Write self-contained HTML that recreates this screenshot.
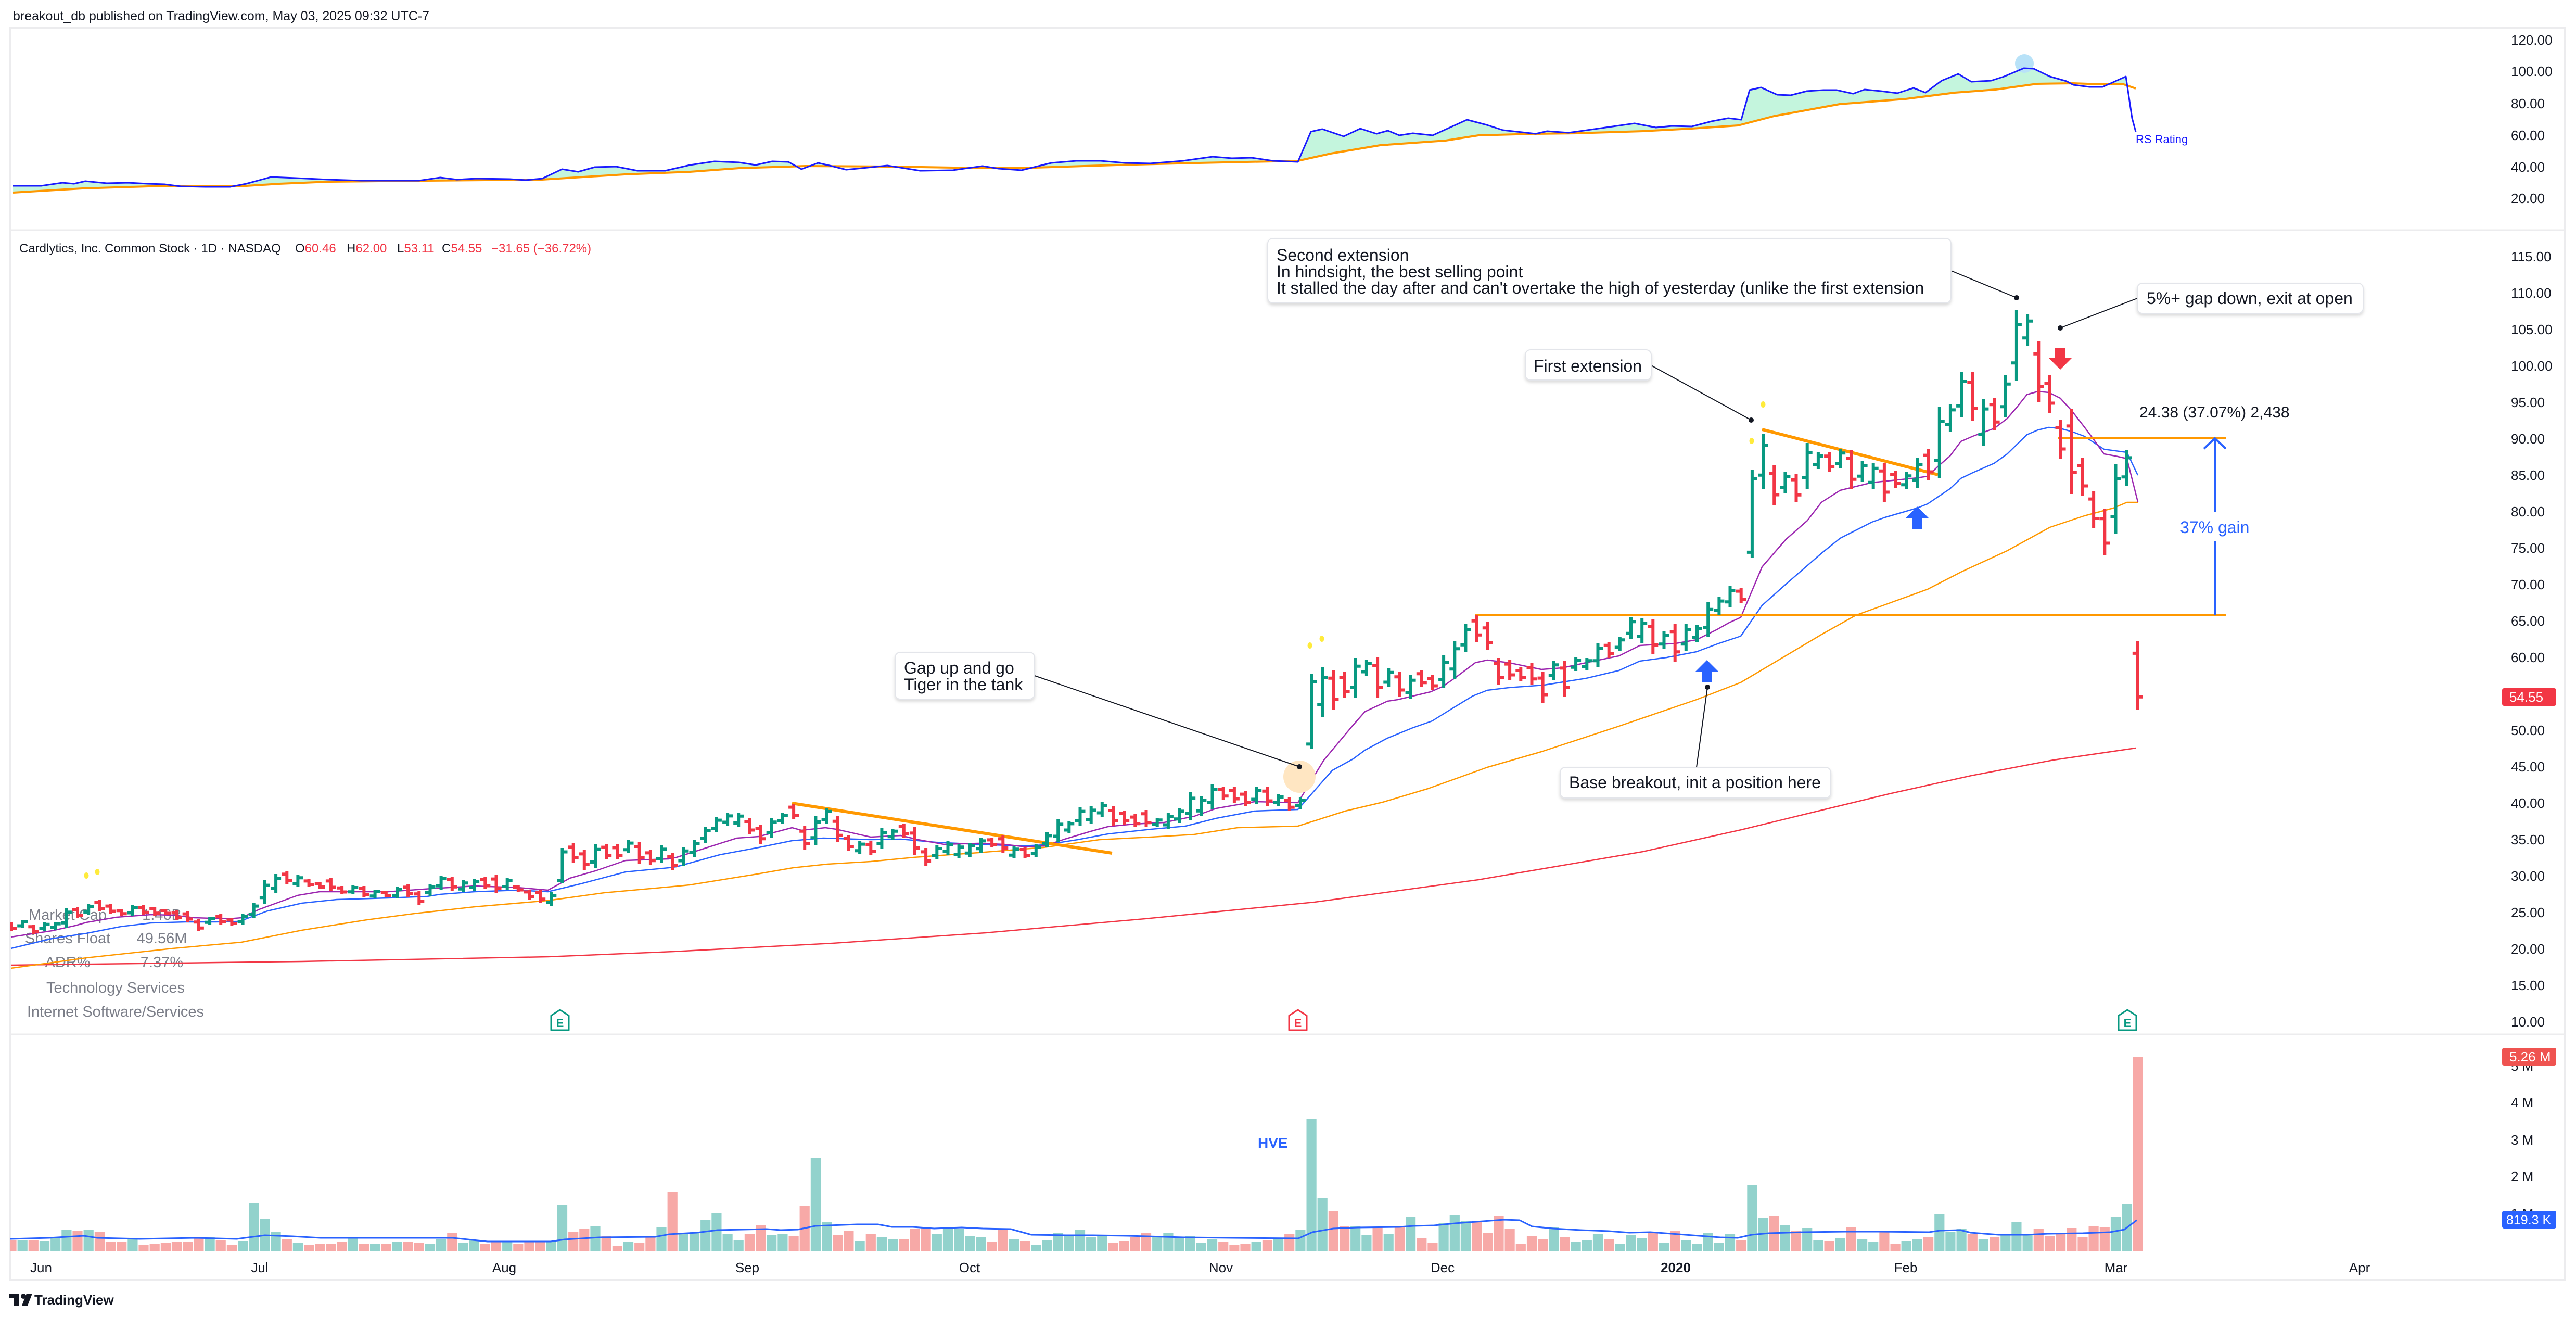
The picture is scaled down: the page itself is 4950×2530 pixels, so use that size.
<!DOCTYPE html>
<html><head><meta charset="utf-8">
<style>
html,body{margin:0;padding:0;background:#fff;}
body{width:4950px;height:2530px;overflow:hidden;position:relative;font-family:"Liberation Sans",Arial,sans-serif;}
svg{position:absolute;left:0;top:0;}
text{font-family:"Liberation Sans",Arial,sans-serif;}
</style></head><body>
<svg id="s" width="4950" height="2530" viewBox="0 0 4950 2530" xmlns="http://www.w3.org/2000/svg">
<defs>
<clipPath id="cpMain"><rect x="20" y="443" width="4725" height="1543"/></clipPath>
<clipPath id="cpVol"><rect x="20" y="1988" width="4725" height="420"/></clipPath>
<clipPath id="cpAbove"><polygon points="25,370 158,362 316,357 458,358 537,353 631,349 821,347 1042,345 1200,335 1326,330 1420,323 1547,319 1705,320 1894,323 1989,322 2146,317 2304,313 2494,309 2557,295 2652,279 2778,270 2841,260 2951,257 3030,256 3157,252 3251,247 3340,241 3409,223 3535,200 3662,190 3756,178 3835,172 3914,161 3984,160 4040,162 4078,161 4104,170 4104,54 25,54"/></clipPath>
<filter id="sh" x="-5%" y="-20%" width="110%" height="150%"><feDropShadow dx="0" dy="4" stdDeviation="3" flood-color="#000" flood-opacity="0.14"/></filter>
</defs>
<rect x="0" y="0" width="4950" height="2530" fill="#fff"/>

<!-- top header -->
<text x="25" y="39" font-size="25" fill="#131722">breakout_db published on TradingView.com, May 03, 2025 09:32 UTC-7</text>

<!-- panel frames -->
<rect x="19.5" y="53.5" width="4909" height="2405" fill="none" stroke="#ececee" stroke-width="3"/>
<line x1="19" y1="442" x2="4929" y2="442" stroke="#ececee" stroke-width="3"/>
<line x1="19" y1="1987" x2="4929" y2="1987" stroke="#ececee" stroke-width="3"/>

<!-- ===== RS pane ===== -->
<g id="rsfill">
<polygon clip-path="url(#cpAbove)" fill="#c4f5dd" points="25,357 79,357 120,351 142,353 164,348 205,352 246,351 284,353 316,354 347,358 395,359 442,359 473,353 521,340 568,342 631,345 694,347 758,347 805,347 846,341 878,345 915,343 979,344 1010,346 1042,343 1080,325 1111,330 1143,321 1184,320 1225,328 1278,328 1326,317 1373,310 1420,312 1452,317 1484,310 1515,311 1540,325 1572,313 1594,318 1626,326 1657,323 1705,318 1768,328 1831,327 1888,319 1919,324 1963,327 2020,313 2068,309 2115,309 2162,313 2210,314 2273,309 2330,301 2367,304 2405,303 2446,309 2494,311 2519,253 2541,248 2582,262 2614,247 2645,257 2667,251 2689,260 2715,256 2753,260 2819,230 2857,240 2888,250 2951,257 2973,252 3014,255 3078,246 3141,237 3182,245 3213,242 3251,243 3289,233 3321,227 3346,230 3362,173 3384,168 3415,182 3441,183 3472,175 3504,173 3529,173 3561,180 3583,172 3614,175 3646,179 3677,169 3700,178 3731,155 3763,142 3788,157 3826,155 3851,147 3889,131 3908,132 3939,147 3971,156 3984,163 4015,167 4040,167 4056,160 4085,147 4097,227 4104,253 4104,170 4078,161 4040,162 3984,160 3914,161 3835,172 3756,178 3662,190 3535,200 3409,223 3340,241 3251,247 3157,252 3030,256 2951,257 2841,260 2778,270 2652,279 2557,295 2494,309 2304,313 2146,317 1989,322 1894,323 1705,320 1547,319 1420,323 1326,330 1200,335 1042,345 821,347 631,349 537,353 458,358 316,357 158,362 25,370"/>
</g>
<polyline fill="none" stroke="#ff9800" stroke-width="4" stroke-linejoin="round" points="25,370 158,362 316,357 458,358 537,353 631,349 821,347 1042,345 1200,335 1326,330 1420,323 1547,319 1705,320 1894,323 1989,322 2146,317 2304,313 2494,309 2557,295 2652,279 2778,270 2841,260 2951,257 3030,256 3157,252 3251,247 3340,241 3409,223 3535,200 3662,190 3756,178 3835,172 3914,161 3984,160 4040,162 4078,161 4104,170"/>
<circle cx="3890" cy="122" r="18" fill="#b8e2f8"/>
<polyline fill="none" stroke="#1a1aff" stroke-width="3" stroke-linejoin="round" points="25,357 79,357 120,351 142,353 164,348 205,352 246,351 284,353 316,354 347,358 395,359 442,359 473,353 521,340 568,342 631,345 694,347 758,347 805,347 846,341 878,345 915,343 979,344 1010,346 1042,343 1080,325 1111,330 1143,321 1184,320 1225,328 1278,328 1326,317 1373,310 1420,312 1452,317 1484,310 1515,311 1540,325 1572,313 1594,318 1626,326 1657,323 1705,318 1768,328 1831,327 1888,319 1919,324 1963,327 2020,313 2068,309 2115,309 2162,313 2210,314 2273,309 2330,301 2367,304 2405,303 2446,309 2494,311 2519,253 2541,248 2582,262 2614,247 2645,257 2667,251 2689,260 2715,256 2753,260 2819,230 2857,240 2888,250 2951,257 2973,252 3014,255 3078,246 3141,237 3182,245 3213,242 3251,243 3289,233 3321,227 3346,230 3362,173 3384,168 3415,182 3441,183 3472,175 3504,173 3529,173 3561,180 3583,172 3614,175 3646,179 3677,169 3700,178 3731,155 3763,142 3788,157 3826,155 3851,147 3889,131 3908,132 3939,147 3971,156 3984,163 4015,167 4040,167 4056,160 4085,147 4097,227 4104,253"/>
<text x="4104" y="275" font-size="22" fill="#1a1aff">RS Rating</text>

<!-- RS axis -->
<g font-size="26" fill="#131722">
<text x="4825" y="86">120.00</text>
<text x="4825" y="146">100.00</text>
<text x="4825" y="208">80.00</text>
<text x="4825" y="269">60.00</text>
<text x="4825" y="330">40.00</text>
<text x="4825" y="390">20.00</text>
</g>

<!-- ===== Main pane ===== -->
<text y="485" font-size="24" fill="#131722"><tspan x="37">Cardlytics, Inc. Common Stock · 1D · NASDAQ</tspan><tspan x="567">O</tspan><tspan fill="#f23645">60.46</tspan><tspan x="666">H</tspan><tspan fill="#f23645">62.00</tspan><tspan x="763">L</tspan><tspan fill="#f23645">53.11</tspan><tspan x="849">C</tspan><tspan fill="#f23645">54.55</tspan><tspan x="944" fill="#f23645">−31.65 (−36.72%)</tspan></text>

<!-- info table -->
<g font-size="29" fill="#7b7e88" text-anchor="middle">
<text x="130" y="1767">Market Cap</text><text x="311" y="1767">1.46B</text>
<text x="130" y="1812">Shares Float</text><text x="311" y="1812">49.56M</text>
<text x="130" y="1858">ADR%</text><text x="311" y="1858">7.37%</text>
<text x="222" y="1907">Technology Services</text>
<text x="222" y="1953">Internet Software/Services</text>
</g>

<g clip-path="url(#cpMain)">
<!-- 200 SMA -->
<polyline fill="none" stroke="#f23645" stroke-width="2.5" points="21,1854 580,1847 1053,1838 1294,1828 1600,1812 1894,1792 2200,1765 2526,1733 2841,1690 3157,1636 3346,1594 3473,1563 3630,1525 3788,1490 3946,1460 4104,1437"/>
<!-- 50 SMA -->
<polyline fill="none" stroke="#ff9800" stroke-width="2.5" stroke-linejoin="round" points="21,1860 166,1840 332,1822 464,1810 580,1787 705,1767 796,1755 912,1742 1053,1730 1161,1715 1294,1703 1325,1700 1449,1680 1524,1667 1590,1660 1673,1655 1756,1647 1880,1638 2005,1628 2113,1613 2212,1608 2295,1603 2378,1590 2494,1587 2585,1558 2657,1541 2744,1515 2858,1474 2962,1444 3111,1395 3260,1344 3345,1311 3500,1219 3566,1182 3602,1169 3704,1132 3770,1098 3857,1058 3939,1013 4005,991 4061,976 4087,965 4108,965"/>
<!-- blue EMA -->
<polyline fill="none" stroke="#2962ff" stroke-width="2.5" stroke-linejoin="round" points="21,1822 100,1803 166,1793 232,1780 290,1773 357,1771 415,1771 460,1770 514,1750 580,1735 647,1728 746,1725 821,1722 846,1718 912,1713 995,1710 1053,1713 1119,1697 1202,1675 1285,1667 1300,1665 1383,1642 1458,1628 1522,1615 1582,1610 1673,1613 1731,1612 1798,1618 1880,1622 1963,1625 2007,1623 2071,1613 2129,1602 2212,1593 2278,1587 2337,1572 2411,1558 2494,1555 2560,1480 2600,1458 2623,1441 2666,1418 2715,1398 2752,1385 2789,1362 2830,1337 2858,1326 2899,1321 2967,1316 3048,1303 3111,1288 3151,1270 3203,1263 3260,1252 3300,1237 3345,1222 3386,1163 3432,1122 3500,1063 3536,1034 3597,1003 3622,994 3684,976 3704,968 3747,939 3768,919 3791,908 3832,890 3857,872 3895,835 3916,826 3937,821 3959,823 3981,829 4005,838 4043,863 4087,869 4108,913"/>
<!-- purple EMA -->
<polyline fill="none" stroke="#9c27b0" stroke-width="2.5" stroke-linejoin="round" points="21,1800 100,1788 145,1778 166,1772 224,1762 290,1757 332,1758 373,1763 440,1765 464,1763 498,1747 572,1720 614,1713 663,1713 746,1713 829,1707 912,1702 995,1705 1053,1710 1095,1687 1144,1673 1202,1653 1285,1650 1300,1647 1416,1610 1458,1607 1522,1590 1540,1595 1586,1590 1607,1593 1673,1608 1731,1605 1764,1613 1814,1622 1880,1620 1930,1622 1972,1627 2007,1625 2046,1612 2096,1597 2129,1588 2179,1583 2237,1580 2295,1568 2337,1553 2411,1540 2494,1542 2544,1460 2600,1393 2623,1367 2666,1347 2686,1344 2749,1329 2772,1319 2795,1303 2835,1273 2858,1268 2899,1273 2962,1286 3002,1283 3048,1273 3111,1260 3151,1240 3220,1236 3260,1229 3300,1209 3323,1196 3345,1186 3386,1089 3432,1036 3473,1000 3500,965 3536,942 3597,927 3684,918 3704,915 3724,896 3747,876 3768,848 3791,838 3832,823 3857,804 3875,783 3895,758 3916,752 3937,754 3959,765 3981,789 4005,820 4023,844 4043,872 4065,876 4087,881 4108,964"/>

<!-- drawings -->
<line x1="1522" y1="1543" x2="2137" y2="1639" stroke="#ff9800" stroke-width="6"/>
<line x1="3386" y1="825" x2="3724" y2="912" stroke="#ff9800" stroke-width="6"/>
<line x1="2835" y1="1182" x2="4278" y2="1182" stroke="#ff9800" stroke-width="4"/>
<line x1="3955" y1="841" x2="4278" y2="841" stroke="#ff9800" stroke-width="4"/>
<circle cx="2497" cy="1492" r="31" fill="#ffe6c2"/>

<!-- bars generated -->
<g id="bars"></g>

<!-- yellow dots -->
<g fill="#ffeb3b">
<ellipse cx="166" cy="1682" rx="4.5" ry="6"/><ellipse cx="187" cy="1675" rx="4.5" ry="6"/>
<ellipse cx="2517" cy="1240" rx="4.5" ry="6"/><ellipse cx="2540" cy="1227" rx="4.5" ry="6"/>
<ellipse cx="3366" cy="847" rx="4.5" ry="6"/><ellipse cx="3388" cy="777" rx="4.5" ry="6"/>
</g>

<!-- arrows -->
<g fill="#2962ff">
<polygon points="3280,1268 3258,1290 3302,1290"/><rect x="3270" y="1289" width="20" height="22"/>
<polygon points="3684,973 3662,995 3706,995"/><rect x="3674" y="994" width="20" height="22"/>
</g>
<g fill="#f23645">
<rect x="3949" y="668" width="20" height="21"/><polygon points="3937,688 3981,688 3959,710"/>
</g>

<!-- measurement -->
<g stroke="#2962ff" stroke-width="4" fill="none">
<line x1="4256" y1="843" x2="4256" y2="984"/>
<line x1="4256" y1="1040" x2="4256" y2="1182"/>
<polyline points="4235,862 4256,842 4277,862"/>
</g>
<text x="4111" y="802" font-size="30" fill="#131722">24.38 (37.07%) 2,438</text>
<text x="4189" y="1024" font-size="32" fill="#2962ff">37% gain</text>

<!-- callout lines -->
<g stroke="#131722" stroke-width="2">
<line x1="3749" y1="520" x2="3875" y2="572"/>
<line x1="4107" y1="573" x2="3959" y2="630"/>
<line x1="3173" y1="702" x2="3365" y2="807"/>
<line x1="3260" y1="1474" x2="3281" y2="1320"/>
<line x1="1988" y1="1298" x2="2497" y2="1473"/>
</g>
<g fill="#131722">
<circle cx="3875" cy="572" r="5"/><circle cx="3959" cy="630" r="5"/><circle cx="3365" cy="807" r="5"/><circle cx="3281" cy="1320" r="5"/><circle cx="2497" cy="1473" r="5"/>
</g>

<!-- boxes -->
<g fill="#fff" stroke="#e3e5ea" stroke-width="2" filter="url(#sh)">
<rect x="2436" y="458" width="1313" height="124" rx="10"/>
<rect x="2931" y="672" width="242" height="58" rx="10"/>
<rect x="4107" y="544" width="434" height="58" rx="10"/>
<rect x="2998" y="1474" width="520" height="59" rx="10"/>
<rect x="1720" y="1253" width="268" height="90" rx="10"/>
</g>
<g font-size="32" fill="#131722">
<text x="2453" y="501">Second extension</text>
<text x="2453" y="533">In hindsight, the best selling point</text>
<text x="2453" y="564">It stalled the day after and can't overtake the high of yesterday (unlike the first extension</text>
<text x="2947" y="714">First extension</text>
<text x="4125" y="584">5%+ gap down, exit at open</text>
<text x="3015" y="1514">Base breakout, init a position here</text>
<text x="1737" y="1294">Gap up and go</text>
<text x="1737" y="1326">Tiger in the tank</text>
</g>
</g>

<!-- E markers -->
<g stroke-width="3" stroke-linejoin="round" fill="#fff">
<path d="M1076,1940 L1093,1951 V1979 H1059 V1951 Z" stroke="#089981"/>
<path d="M2494,1940 L2511,1951 V1979 H2477 V1951 Z" stroke="#f23645"/>
<path d="M4088,1940 L4105,1951 V1979 H4071 V1951 Z" stroke="#089981"/>
</g>
<g font-size="22" font-weight="bold" text-anchor="middle">
<text x="1076" y="1973" fill="#089981">E</text>
<text x="2494" y="1973" fill="#f23645">E</text>
<text x="4088" y="1973" fill="#089981">E</text>
</g>

<!-- price axis -->
<g font-size="26" fill="#131722">
<text x="4825" y="502">115.00</text>
<text x="4825" y="572">110.00</text>
<text x="4825" y="642">105.00</text>
<text x="4825" y="712">100.00</text>
<text x="4825" y="782">95.00</text>
<text x="4825" y="852">90.00</text>
<text x="4825" y="922">85.00</text>
<text x="4825" y="992">80.00</text>
<text x="4825" y="1062">75.00</text>
<text x="4825" y="1132">70.00</text>
<text x="4825" y="1202">65.00</text>
<text x="4825" y="1272">60.00</text>
<text x="4825" y="1412">50.00</text>
<text x="4825" y="1482">45.00</text>
<text x="4825" y="1552">40.00</text>
<text x="4825" y="1622">35.00</text>
<text x="4825" y="1692">30.00</text>
<text x="4825" y="1762">25.00</text>
<text x="4825" y="1832">20.00</text>
<text x="4825" y="1902">15.00</text>
<text x="4825" y="1972">10.00</text>
</g>
<rect x="4808" y="1322" width="104" height="34" rx="4" fill="#f23645"/>
<text x="4822" y="1348" font-size="26" fill="#fff">54.55</text>

<!-- ===== Volume pane ===== -->
<g clip-path="url(#cpVol)">
<g id="vols"></g>
<polyline fill="none" stroke="#2962ff" stroke-width="3" stroke-linejoin="round" points="20,2380 94,2378 161,2374 187,2378 268,2380 375,2378 455,2380 509,2373 562,2375 616,2378 804,2378 870,2378 937,2385 1058,2385 1085,2381 1152,2377 1259,2376 1286,2371 1339,2368 1379,2363 1473,2361 1500,2363 1533,2362 1567,2355 1647,2352 1687,2352 1714,2357 1754,2357 1795,2360 1848,2358 1888,2360 1942,2361 1982,2372 2049,2373 2100,2373 2167,2374 2274,2377 2368,2378 2495,2379 2522,2367 2562,2360 2609,2358 2689,2357 2716,2355 2756,2354 2796,2350 2850,2346 2890,2343 2920,2344 2944,2356 2984,2360 3037,2363 3091,2365 3131,2368 3171,2367 3212,2370 3265,2374 3305,2377 3339,2378 3366,2372 3399,2369 3466,2367 3546,2366 3613,2366 3707,2367 3727,2364 3767,2363 3787,2368 3841,2372 3895,2372 3935,2370 4002,2369 4055,2367 4082,2362 4106,2344"/>
</g>
<text x="2417" y="2205" font-size="28" font-weight="bold" fill="#2962ff">HVE</text>

<g font-size="26" fill="#131722">
<text x="4825" y="2057">5 M</text>
<text x="4825" y="2127">4 M</text>
<text x="4825" y="2199">3 M</text>
<text x="4825" y="2269">2 M</text>
<text x="4825" y="2340">1 M</text>
</g>
<rect x="4808" y="2013" width="104" height="34" rx="4" fill="#ef5350"/>
<text x="4822" y="2039" font-size="26" fill="#fff">5.26 M</text>
<rect x="4808" y="2326" width="104" height="34" rx="4" fill="#2962ff"/>
<text x="4816" y="2352" font-size="25" fill="#fff">819.3 K</text>

<!-- x axis -->
<g font-size="26" fill="#131722" text-anchor="middle">
<text x="79" y="2444">Jun</text>
<text x="499" y="2444">Jul</text>
<text x="969" y="2444">Aug</text>
<text x="1436" y="2444">Sep</text>
<text x="1863" y="2444">Oct</text>
<text x="2346" y="2444">Nov</text>
<text x="2772" y="2444">Dec</text>
<text x="3220" y="2444" font-weight="bold">2020</text>
<text x="3662" y="2444">Feb</text>
<text x="4066" y="2444">Mar</text>
<text x="4534" y="2444">Apr</text>
</g>

<!-- TradingView logo -->
<g fill="#131722">
<rect x="18" y="2485" width="18" height="9"/>
<rect x="27" y="2485" width="9" height="23"/>
<circle cx="45" cy="2490" r="5"/>
<polygon points="51,2485 62,2485 53,2508 42,2508"/>
</g>
<text x="66" y="2506" font-size="26" font-weight="bold" fill="#131722">TradingView</text>
</svg>
<script>
(function(){
var NS="http://www.w3.org/2000/svg";
var C=["RGRGGGRGRR","RGRRRRRRGR","RGGGGRGRRR","RGRGRGRRGG","RGGRRGRRRG","GRRGRRGRRG","RGGGGGGRRG","GRRGGRRGRG","GRRRGGGGGR","RGRGGGGGGG","RRRRGGGGGG","RRRGRGRGGG","RRGGRGRGRR","GGGRRRRRRR","GRGGGRGGGR","GRGGGGGRGG","RGRGGRGRGG","RRGGRGGGRG","RGGGRRRRRR","RGGR"].join("");
var H=[1773,1768,1777,1773,1772,1745,1743,1737,1730,1737,
1747,1740,1740,1743,1747,1750,1752,1767,1762,1757,
1765,1757,1735,1692,1680,1675,1682,1690,1695,1688,
1703,1702,1703,1710,1712,1705,1700,1712,1700,1683,
1685,1692,1690,1685,1682,1688,1702,1710,1710,1715,
1630,1620,1633,1623,1622,1623,1615,1618,1633,1625,
1640,1628,1615,1590,1570,1563,1563,1572,1585,1572,
1562,1545,1588,1568,1553,1568,1605,1617,1617,1592,
1593,1583,1590,1630,1625,1617,1622,1620,1610,1610,
1605,1627,1628,1623,1600,1575,1578,1552,1550,1542,
1550,1558,1565,1557,1572,1562,1553,1523,1530,1508,
1512,1512,1520,1513,1513,1527,1532,1533,1295,1282,
1288,1292,1265,1268,1263,1285,1291,1298,1288,1298,
1260,1232,1199,1183,1196,1265,1268,1283,1275,1291,
1270,1270,1263,1265,1237,1234,1224,1186,1189,1191,
1214,1199,1199,1201,1158,1148,1127,1130,903,834,
895,908,911,852,870,869,863,866,887,890,
890,905,908,881,863,783,777,716,716,768,
765,722,596,605,657,722,807,786,881,945,
979,893,866,1233];
var L=[1787,1782,1793,1787,1785,1782,1763,1757,1750,1755,
1758,1758,1757,1758,1757,1767,1770,1788,1775,1775,
1777,1775,1763,1735,1715,1697,1703,1702,1707,1710,
1717,1717,1723,1725,1723,1725,1722,1738,1720,1708,
1710,1713,1710,1707,1715,1708,1712,1727,1733,1740,
1695,1657,1670,1667,1650,1650,1638,1658,1660,1657,
1670,1662,1645,1618,1598,1585,1587,1602,1620,1608,
1582,1573,1632,1623,1582,1617,1633,1640,1642,1630,
1612,1608,1642,1662,1650,1642,1648,1645,1637,1627,
1637,1648,1648,1645,1627,1617,1600,1585,1582,1568,
1585,1583,1588,1588,1588,1592,1580,1575,1567,1553,
1535,1542,1548,1543,1547,1547,1557,1553,1438,1377,
1362,1340,1339,1298,1339,1319,1337,1342,1319,1324,
1321,1303,1252,1232,1247,1314,1306,1308,1314,1349,
1306,1337,1288,1286,1280,1263,1250,1227,1234,1255,
1245,1270,1250,1232,1222,1181,1166,1158,1071,939,
969,946,964,939,900,905,899,939,924,939,
964,936,939,936,921,918,829,801,807,856,
826,801,731,664,771,792,881,948,951,1013,
1065,1025,933,1362];
var V=[1178,1178,1178,1182,1158,1118,1122,1116,1128,1185,
1188,1170,1203,1197,1191,1188,1188,1158,1158,1179,
1203,1182,963,1053,1128,1173,1194,1206,1200,1197,
1188,1164,1200,1200,1197,1188,1185,1194,1197,1170,
1137,1191,1176,1200,1188,1188,1197,1188,1185,1185,
975,1131,1113,1095,1155,1209,1185,1194,1158,1104,
900,1134,1128,1059,1020,1140,1176,1143,1092,1149,
1140,1155,981,702,1074,1149,1122,1182,1140,1158,
1170,1173,1113,1104,1143,1107,1113,1155,1158,1185,
1116,1170,1182,1206,1176,1134,1152,1119,1161,1155,
1191,1182,1161,1134,1155,1134,1167,1152,1191,1173,
1185,1203,1197,1188,1176,1167,1143,1119,480,936,
1008,1095,1098,1149,1104,1140,1101,1041,1167,1191,
1077,1032,1065,1074,1134,1038,1113,1197,1152,1170,
1104,1158,1185,1176,1143,1170,1200,1146,1164,1134,
1191,1125,1176,1200,1134,1191,1143,1176,861,1047,
1038,1092,1125,1107,1179,1182,1167,1101,1173,1185,
1131,1197,1182,1173,1158,1026,1131,1110,1140,1170,
1158,1149,1074,1146,1110,1155,1134,1107,1158,1095,
1101,1041,966,120];
var gp="",rp="",gv="",rv="";
var n=Math.min(H.length,L.length,V.length,C.length);
for(var i=0;i<n;i++){
 var x=22+i*21.17,h=H[i],l=L[i],r=l-h,up=C.charAt(i)==="G",o,c;
 if(up){o=l-0.25*r;c=h+0.2*r;}else{o=h+0.2*r;c=l-0.25*r;}
 if(i===50||i===118||i===158){o=h+0.94*r;c=h+0.1*r;}
 if(i===193){o=h+0.17*r;c=h+0.82*r;}
 var xs=x.toFixed(1);
 var d="M"+xs+" "+(h-1)+"V"+(l+1)+"M"+(x-10).toFixed(1)+" "+o.toFixed(1)+"H"+xs+"M"+xs+" "+c.toFixed(1)+"H"+(x+10).toFixed(1);
 if(up)gp+=d;else rp+=d;
 var vt=(1990+V[i]/3).toFixed(1);
 var vd="M"+(x-9.6).toFixed(1)+" "+vt+"H"+(x+9.6).toFixed(1)+"V2403H"+(x-9.6).toFixed(1)+"Z";
 if(up)gv+=vd;else rv+=vd;
}
function mk(parent,d,attrs){var p=document.createElementNS(NS,"path");p.setAttribute("d",d);for(var k in attrs)p.setAttribute(k,attrs[k]);parent.appendChild(p);}
var vg=document.getElementById("vols");
mk(vg,gv,{fill:"#92d2cc"});
mk(vg,rv,{fill:"#f7a9a7"});
var bg=document.getElementById("bars");
mk(bg,gp,{fill:"none",stroke:"#089981","stroke-width":"6"});
mk(bg,rp,{fill:"none",stroke:"#f23645","stroke-width":"6"});
})();
</script>
</body></html>
